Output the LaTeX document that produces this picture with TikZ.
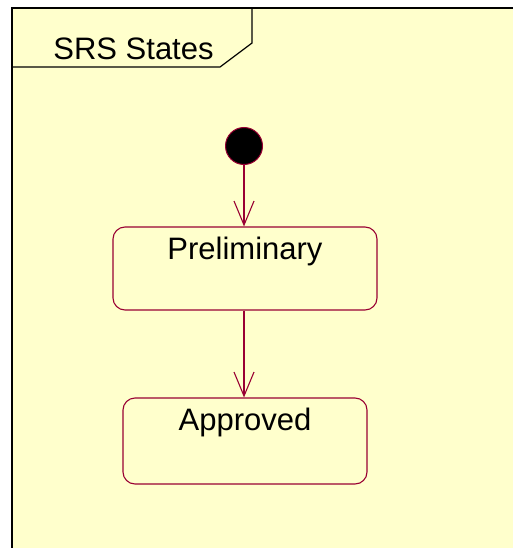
\documentclass[tikz,border=0pt]{standalone}
\usepackage{fontspec}
\setmainfont{Liberation Sans}
\usetikzlibrary{arrows.meta}
\definecolor{umlfill}{RGB}{255,255,204}
\definecolor{umlline}{RGB}{153,0,51}

\tikzset{
  statebox/.style={draw=umlline,line width=1.1pt,rounded corners=12pt,inner sep=0pt},
  statename/.style={anchor=north,inner sep=0pt,yshift=-10pt,font=\fontsize{31}{37}\selectfont},
  initstate/.style={circle,draw=umlline,fill=black,line width=1pt,minimum size=37pt,inner sep=0pt},
  trans/.style={draw=umlline,line width=1.1pt,-{Straight Barb[length=24pt,width=20pt]}}
}

\begin{document}
\begin{tikzpicture}[x=1pt,y=-1pt]
    \useasboundingbox (0,0) rectangle (513,548);
    \fill[umlfill] (12,8) rectangle (513,548);
    \draw[line width=2.2pt] (518,8) -- (12,8) -- (12,553);
    \draw[line width=1.2pt] (252,8) -- (252,43) -- (220,67) -- (12,67);
    \node[anchor=base,inner sep=0pt,font=\fontsize{31}{37}\selectfont] (frame) at (133.5,60) {SRS States};
    \node[initstate] (init) at (244,146) {};
    \node[statebox,minimum width=264pt,minimum height=83pt,
      label={[statename,name=prelimname]north:Preliminary}] (prelim) at (245,268.5) {};
    \node[statebox,minimum width=244pt,minimum height=86pt,
      label={[statename,name=approvedname]north:Approved}] (approved) at (245,441) {};
    \draw[trans] (init) -- (init |- prelim.north);
    \draw[trans] (init |- prelim.south) -- (init |- approved.north);
  \end{tikzpicture}
\end{document}
